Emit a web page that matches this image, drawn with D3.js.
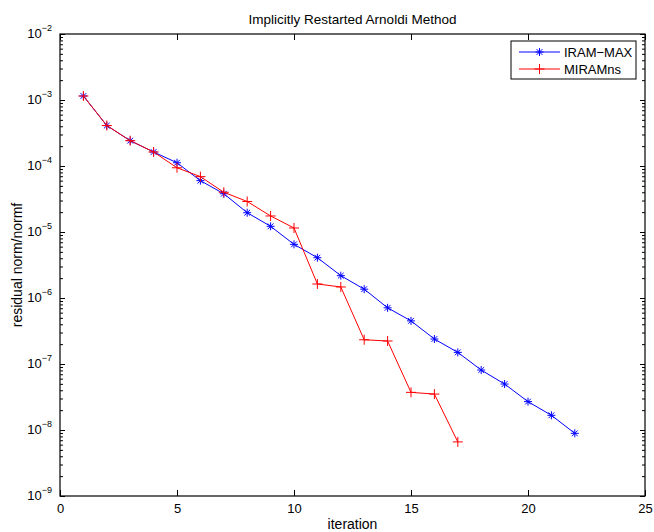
<!DOCTYPE html>
<html><head><meta charset="utf-8">
<script src="https://cdn.jsdelivr.net/npm/d3@7"></script>
<style>
body{margin:0;background:#fff;}
text{font-family:"Liberation Sans",Arial,Helvetica,sans-serif;}
</style>
</head><body>
<svg id="c" width="654" height="532"></svg>
<script>
const iterationsA = [1,2,3,4,5,6,7,8,9,10,11,12,13,14,15,16,17,18,19,20,21,22];
const iramMax = [1.15e-3,4.1e-4,2.42e-4,1.63e-4,1.12e-4,6.0e-5,3.8e-5,1.96e-5,1.22e-5,6.5e-6,4.08e-6,2.18e-6,1.36e-6,7.1e-7,4.5e-7,2.39e-7,1.5e-7,8.1e-8,4.97e-8,2.69e-8,1.67e-8,8.9e-9];
const iterationsB = [1,2,3,4,5,6,7,8,9,10,11,12,13,14,15,16,17];
const miramNs = [1.15e-3,4.1e-4,2.42e-4,1.63e-4,9.4e-5,6.9e-5,4.0e-5,2.9e-5,1.75e-5,1.15e-5,1.63e-6,1.47e-6,2.33e-7,2.23e-7,3.72e-8,3.5e-8,6.6e-9];
const xTicks = [0,5,10,15,20,25];
const yExponents = [-9,-8,-7,-6,-5,-4,-3,-2];
const seriesNames = ["IRAM\u2212MAX","MIRAMns"];
const titleText = "Implicitly Restarted Arnoldi Method";
const xLabel = "iteration";
const yLabel = "residual norm/normf";

const svg = d3.select("#c");
const L=60, R=645, T=34, B=496;
const x = d3.scaleLinear().domain([0,25]).range([L,R]);
const y = d3.scaleLog().domain([1e-9,1e-2]).range([B,T]);

const majorY = yExponents.map(e=>Math.pow(10,e));
const minorY = [];
for (let e=-9;e<-2;e++) for (let m=2;m<=9;m++) minorY.push(m*Math.pow(10,e));

const g = svg.append("g");
g.append("rect").attr("x",L).attr("y",T).attr("width",R-L).attr("height",B-T).attr("fill","#fff");

function styleAxis(sel){
  sel.select(".domain").remove();
  sel.selectAll("line").attr("stroke","#000").attr("stroke-width",1);
}
const xb = g.append("g").attr("transform",`translate(0,${B})`)
  .call(d3.axisBottom(x).tickValues(xTicks).tickSize(-6).tickPadding(7).tickFormat(d3.format("d")));
styleAxis(xb);
xb.selectAll("text").attr("font-size",13).attr("fill","#000").attr("dy","0.75em");
const xt = g.append("g").attr("transform",`translate(0,${T})`)
  .call(d3.axisTop(x).tickValues(xTicks).tickSize(-6).tickFormat(""));
styleAxis(xt);
const yl = g.append("g").attr("transform",`translate(${L},0)`)
  .call(d3.axisLeft(y).tickValues(majorY).tickSize(-5).tickPadding(10).tickFormat(""));
styleAxis(yl);
yl.selectAll(".tick").append("text")
  .attr("x",-8).attr("dy","0.35em").attr("text-anchor","end").attr("fill","#000")
  .each(function(d){
    const t=d3.select(this);
    t.append("tspan").attr("font-size",13).text("10");
    t.append("tspan").attr("font-size",9).attr("dy","-0.75em").text("\u2212"+Math.round(-Math.log10(d)));
  });
const ylm = g.append("g").attr("transform",`translate(${L},0)`)
  .call(d3.axisLeft(y).tickValues(minorY).tickSize(-3).tickFormat(""));
styleAxis(ylm);
const yr = g.append("g").attr("transform",`translate(${R},0)`)
  .call(d3.axisRight(y).tickValues(majorY).tickSize(-5).tickFormat(""));
styleAxis(yr);
const yrm = g.append("g").attr("transform",`translate(${R},0)`)
  .call(d3.axisRight(y).tickValues(minorY).tickSize(-3).tickFormat(""));
styleAxis(yrm);

g.append("rect").attr("x",L).attr("y",T).attr("width",R-L).attr("height",B-T)
  .attr("fill","none").attr("stroke","#000").attr("stroke-width",1.2);

const line = d3.line().x(d=>x(d[0])).y(d=>y(d[1]));
const dataA = iterationsA.map((d,i)=>[d,iramMax[i]]);
const dataB = iterationsB.map((d,i)=>[d,miramNs[i]]);

function star(gg,cx,cy,col){
  const r=4;
  const p=gg.append("g").attr("stroke",col).attr("stroke-width",1);
  p.append("line").attr("x1",cx-r).attr("x2",cx+r).attr("y1",cy).attr("y2",cy);
  p.append("line").attr("x1",cx).attr("x2",cx).attr("y1",cy-r).attr("y2",cy+r);
  const k=r*0.72;
  p.append("line").attr("x1",cx-k).attr("x2",cx+k).attr("y1",cy-k).attr("y2",cy+k);
  p.append("line").attr("x1",cx-k).attr("x2",cx+k).attr("y1",cy+k).attr("y2",cy-k);
}
function plus(gg,cx,cy,col){
  const r=5;
  const p=gg.append("g").attr("stroke",col).attr("stroke-width",1);
  p.append("line").attr("x1",cx-r).attr("x2",cx+r).attr("y1",cy).attr("y2",cy);
  p.append("line").attr("x1",cx).attr("x2",cx).attr("y1",cy-r).attr("y2",cy+r);
}

const blue="#0000ff", red="#ff0000";
const sA = g.append("g");
sA.append("path").datum(dataA).attr("d",line).attr("fill","none").attr("stroke",blue).attr("stroke-width",1);
dataA.forEach(d=>star(sA,x(d[0]),y(d[1]),blue));
const sB = g.append("g");
sB.append("path").datum(dataB).attr("d",line).attr("fill","none").attr("stroke",red).attr("stroke-width",1);
dataB.forEach(d=>plus(sB,x(d[0]),y(d[1]),red));

const lg = g.append("g");
lg.append("rect").attr("x",511).attr("y",41).attr("width",125).attr("height",38)
  .attr("fill","#fff").attr("stroke","#000").attr("stroke-width",1);
const rows=[{n:seriesNames[0],c:blue,m:star,yy:52},{n:seriesNames[1],c:red,m:plus,yy:69}];
rows.forEach(r=>{
  lg.append("line").attr("x1",519).attr("x2",560).attr("y1",r.yy).attr("y2",r.yy).attr("stroke",r.c).attr("stroke-width",1);
  r.m(lg,539.5,r.yy,r.c);
  lg.append("text").attr("x",564).attr("y",r.yy).attr("dy","0.35em").attr("font-size",13).attr("fill","#000").text(r.n);
});

svg.append("text").attr("x",(L+R)/2).attr("y",24).attr("text-anchor","middle").attr("font-size",13.5).attr("fill","#000").text(titleText);
svg.append("text").attr("x",(L+R)/2).attr("y",529).attr("text-anchor","middle").attr("font-size",14).attr("fill","#000").text(xLabel);
svg.append("text").attr("transform",`translate(22,${(T+B)/2}) rotate(-90)`).attr("text-anchor","middle").attr("font-size",14).attr("fill","#000").text(yLabel);
</script>
</body></html>
